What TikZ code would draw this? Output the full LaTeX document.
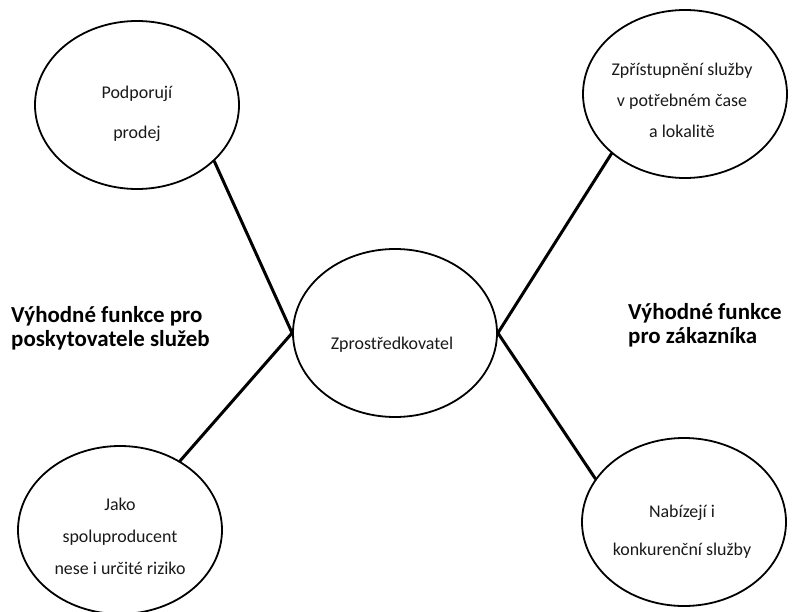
\documentclass[tikz,border=0pt]{standalone}
\usepackage{fontspec}
\setmainfont{Carlito}
\usetikzlibrary{shapes.geometric}
\begin{document}
\begin{tikzpicture}[x=1bp,y=-1bp,
  bubble/.style={ellipse,draw=black,line width=1.8bp,minimum width=204bp,minimum height=168bp,inner sep=0pt},
  link/.style={line width=3bp,line cap=round},
  inner/.style={align=center,inner sep=0pt,text=black!90},
  side/.style={align=left,inner sep=0pt,anchor=north west,font=\fontsize{23}{24}\selectfont\bfseries}]
\useasboundingbox (0,0) rectangle (801,612);
\node[bubble] (tl) at (137,105) {};
\node[bubble] (tr) at (685,94) {};
\node[bubble] (c)  at (395,333) {};
\node[bubble] (bl) at (120,530) {};
\node[bubble] (br) at (684,522) {};
\node[inner,font=\fontsize{18}{40}\selectfont] (tlt) at (137,114) {Podporují\\prodej};
\node[inner,font=\fontsize{18}{31}\selectfont] (trt) at (682,100) {Zpřístupnění služby\\v potřebném čase\\a lokalitě};
\node[inner,font=\fontsize{18}{22}\selectfont] (ct) at (392,345) {Zprostředkovatel};
\node[inner,font=\fontsize{18}{32}\selectfont] (blt) at (120,536) {Jako\\spoluproducent\\nese i určité riziko};
\node[inner,font=\fontsize{18}{38}\selectfont] (brt) at (682,532) {Nabízejí i\\konkurenční služby};
\node[side] (ls) at (11,306) {Výhodné funkce pro\\poskytovatele služeb};
\node[side] (rs) at (628,303) {Výhodné funkce\\pro zákazníka};
\draw[link] (tl.-36) -- (c.west);
\draw[link] (bl.49) -- (c.west);
\draw[link] (tr.219) -- (c.east);
\draw[link] (br.154) -- (c.east);
\end{tikzpicture}
\end{document}
